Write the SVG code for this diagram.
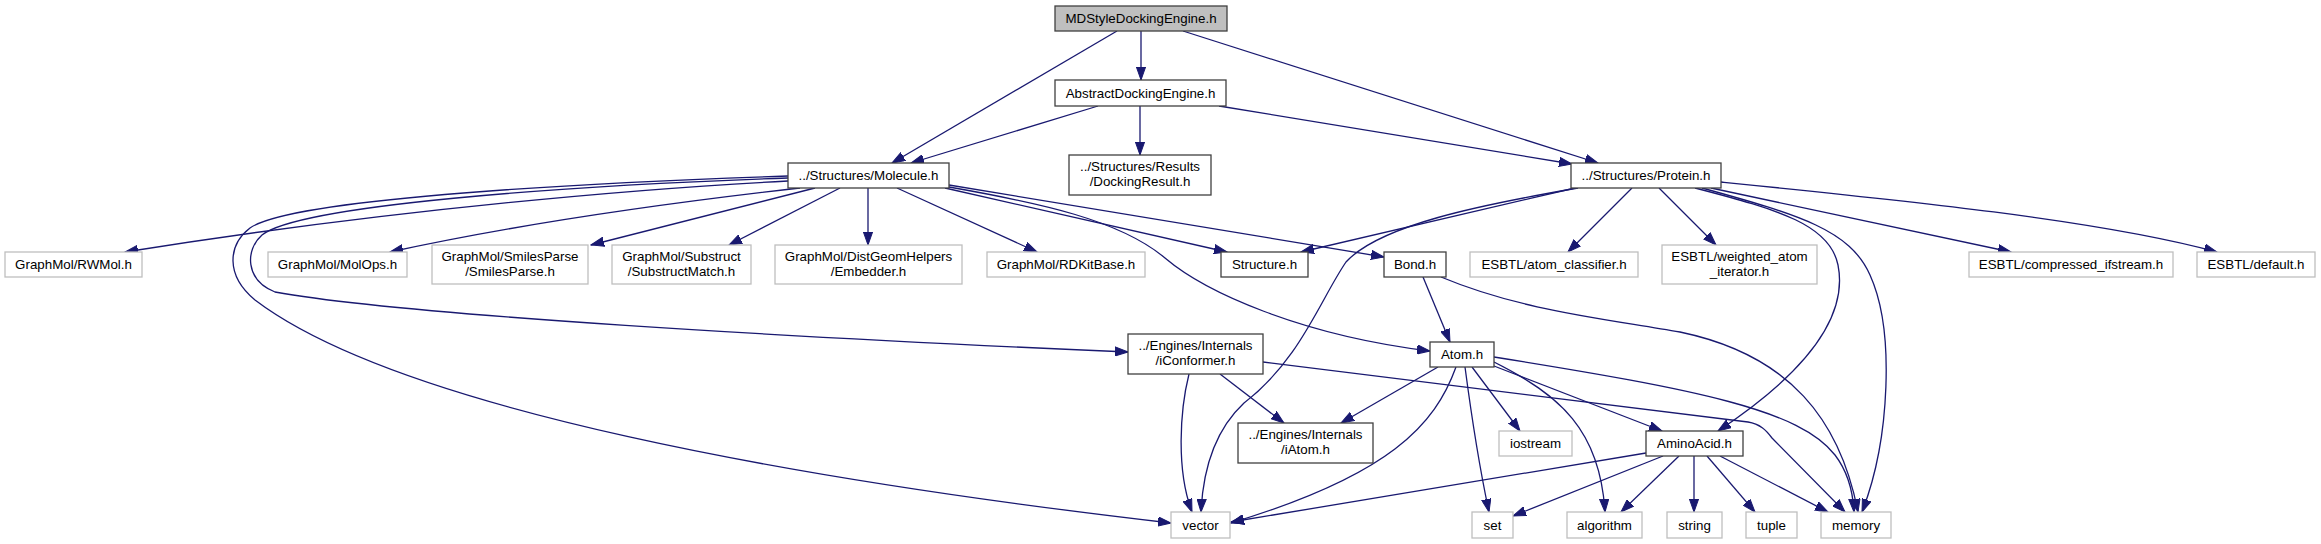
<svg xmlns="http://www.w3.org/2000/svg" width="2321" height="544" viewBox="0 0 2321 544">
<style>
.n rect{fill:#fff;stroke:#404040;stroke-width:1.3}
.x rect{fill:#fff;stroke:#bfbfbf;stroke-width:1.3}
.r rect{fill:#bfbfbf;stroke:#404040;stroke-width:1.3}
text{font-family:"Liberation Sans",Arial,sans-serif;font-size:13.33px;fill:#000;text-anchor:middle}
#edges path{fill:none;stroke:#191970;stroke-width:1.3;marker-end:url(#ah)}
</style>
<defs>
<marker id="ah" markerWidth="14" markerHeight="10" refX="13" refY="5" orient="auto" markerUnits="userSpaceOnUse"><path d="M0,0.4 L13,5 L0,9.6 z" fill="#191970" stroke="#191970" stroke-width="1"/></marker>
</defs>
<rect width="2321" height="544" fill="#fff"/>
<g id="edges">
<path d="M1117,31 L892,163"/>
<path d="M1141,31 L1141,80"/>
<path d="M1183,31 L1598,163"/>
<path d="M1098,106 L911,163"/>
<path d="M1140,106 L1140,155"/>
<path d="M1219,106 L1572,164"/>
<path d="M788,181 C650,188 400,208 125,252"/>
<path d="M800,188 C650,205 500,228 390,252"/>
<path d="M815,188 L591,245"/>
<path d="M840,188 L729,245"/>
<path d="M868,188 L868,245"/>
<path d="M897,188 L1037,252"/>
<path d="M945,188 L1227,252"/>
<path d="M949,185 L1384,257"/>
<path d="M949,187 C1040,203 1120,220 1165,258 C1205,292 1300,335 1430,351"/>
<path d="M788,178 C560,186 300,205 262,235 C245,250 245,280 275,292 C400,315 800,338 1128,352"/>
<path d="M788,176 C550,184 290,200 250,228 C228,245 225,275 255,300 C400,410 800,480 1171,523"/>
<path d="M1575,188 L1301,252"/>
<path d="M1578,188 C1480,205 1380,225 1346,262 C1320,300 1300,360 1244,403 C1215,430 1203,470 1201,512"/>
<path d="M1632,188 L1568,252"/>
<path d="M1659,188 L1716,245"/>
<path d="M1695,188 C1780,210 1830,225 1838,265 C1848,315 1810,370 1718,431"/>
<path d="M1702,188 C1800,215 1850,230 1870,275 C1895,330 1890,440 1862,512"/>
<path d="M1711,188 L2011,252"/>
<path d="M1721,182 C1900,200 2100,220 2217,252"/>
<path d="M1423,277 L1450,342"/>
<path d="M1441,277 C1520,310 1600,318 1680,332 C1790,355 1840,420 1858,512"/>
<path d="M1189,374 C1180,410 1176,470 1192,512"/>
<path d="M1220,374 L1284,423"/>
<path d="M1263,362 L1748,422 C1760,424 1766,430 1772,438 L1845,512"/>
<path d="M1438,367 L1341,423"/>
<path d="M1456,367 C1435,425 1390,475 1231,523"/>
<path d="M1465,367 C1472,420 1480,470 1489,512"/>
<path d="M1472,367 L1520,431"/>
<path d="M1494,362 C1560,395 1600,430 1605,512"/>
<path d="M1494,366 L1662,431"/>
<path d="M1494,357 C1700,390 1800,410 1835,455 C1848,472 1853,492 1854,512"/>
<path d="M1646,453 L1231,522"/>
<path d="M1663,456 L1513,516"/>
<path d="M1679,456 L1621,512"/>
<path d="M1694,456 L1694,512"/>
<path d="M1707,456 L1755,512"/>
<path d="M1720,456 L1828,512"/>
</g>
<g id="n_md" class="r"><rect x="1055" y="6" width="172" height="25"/><text x="1141" y="23">MDStyleDockingEngine.h</text></g>
<g id="n_abs" class="n"><rect x="1055" y="80" width="171" height="26"/><text x="1140.5" y="97.5">AbstractDockingEngine.h</text></g>
<g id="n_mol" class="n"><rect x="788" y="163" width="161" height="25"/><text x="868.5" y="180">../Structures/Molecule.h</text></g>
<g id="n_dock" class="n"><rect x="1069" y="155" width="142" height="40"/><text x="1140" y="171">../Structures/Results</text><text x="1140" y="185.5">/DockingResult.h</text></g>
<g id="n_prot" class="n"><rect x="1571" y="163" width="150" height="25"/><text x="1646" y="180">../Structures/Protein.h</text></g>
<g id="n_rwmol" class="x"><rect x="5" y="252" width="137" height="25"/><text x="73.5" y="269">GraphMol/RWMol.h</text></g>
<g id="n_molops" class="x"><rect x="268" y="252" width="139" height="25"/><text x="337.5" y="269">GraphMol/MolOps.h</text></g>
<g id="n_smiles" class="x"><rect x="432" y="245" width="156" height="39"/><text x="510" y="261">GraphMol/SmilesParse</text><text x="510" y="275.5">/SmilesParse.h</text></g>
<g id="n_subs" class="x"><rect x="612" y="245" width="139" height="39"/><text x="681.5" y="261">GraphMol/Substruct</text><text x="681.5" y="275.5">/SubstructMatch.h</text></g>
<g id="n_emb" class="x"><rect x="775" y="245" width="187" height="39"/><text x="868.5" y="261">GraphMol/DistGeomHelpers</text><text x="868.5" y="275.5">/Embedder.h</text></g>
<g id="n_rdkit" class="x"><rect x="987" y="252" width="158" height="25"/><text x="1066" y="269">GraphMol/RDKitBase.h</text></g>
<g id="n_struct" class="n"><rect x="1221" y="252" width="87" height="25"/><text x="1264.5" y="269">Structure.h</text></g>
<g id="n_bond" class="n"><rect x="1384" y="252" width="62" height="25"/><text x="1415" y="269">Bond.h</text></g>
<g id="n_atomcl" class="x"><rect x="1470" y="252" width="168" height="25"/><text x="1554" y="269">ESBTL/atom_classifier.h</text></g>
<g id="n_weighted" class="x"><rect x="1662" y="245" width="155" height="39"/><text x="1739.5" y="261">ESBTL/weighted_atom</text><text x="1739.5" y="275.5">_iterator.h</text></g>
<g id="n_comp" class="x"><rect x="1969" y="252" width="204" height="25"/><text x="2071" y="269">ESBTL/compressed_ifstream.h</text></g>
<g id="n_default" class="x"><rect x="2197" y="252" width="118" height="25"/><text x="2256" y="269">ESBTL/default.h</text></g>
<g id="n_iconf" class="n"><rect x="1128" y="334" width="135" height="40"/><text x="1195.5" y="350">../Engines/Internals</text><text x="1195.5" y="364.5">/iConformer.h</text></g>
<g id="n_atom" class="n"><rect x="1430" y="342" width="64" height="25"/><text x="1462" y="359">Atom.h</text></g>
<g id="n_iatom" class="n"><rect x="1238" y="423" width="135" height="40"/><text x="1305.5" y="439">../Engines/Internals</text><text x="1305.5" y="453.5">/iAtom.h</text></g>
<g id="n_iostream" class="x"><rect x="1499" y="431" width="73" height="25"/><text x="1535.5" y="448">iostream</text></g>
<g id="n_amino" class="n"><rect x="1646" y="431" width="97" height="25"/><text x="1694.5" y="448">AminoAcid.h</text></g>
<g id="n_vector" class="x"><rect x="1171" y="512" width="59" height="26"/><text x="1200.5" y="529.5">vector</text></g>
<g id="n_set" class="x"><rect x="1472" y="512" width="41" height="26"/><text x="1492.5" y="529.5">set</text></g>
<g id="n_algo" class="x"><rect x="1567" y="512" width="75" height="26"/><text x="1604.5" y="529.5">algorithm</text></g>
<g id="n_string" class="x"><rect x="1667" y="512" width="55" height="26"/><text x="1694.5" y="529.5">string</text></g>
<g id="n_tuple" class="x"><rect x="1746" y="512" width="51" height="26"/><text x="1771.5" y="529.5">tuple</text></g>
<g id="n_memory" class="x"><rect x="1821" y="512" width="70" height="26"/><text x="1856" y="529.5">memory</text></g>
</svg>
